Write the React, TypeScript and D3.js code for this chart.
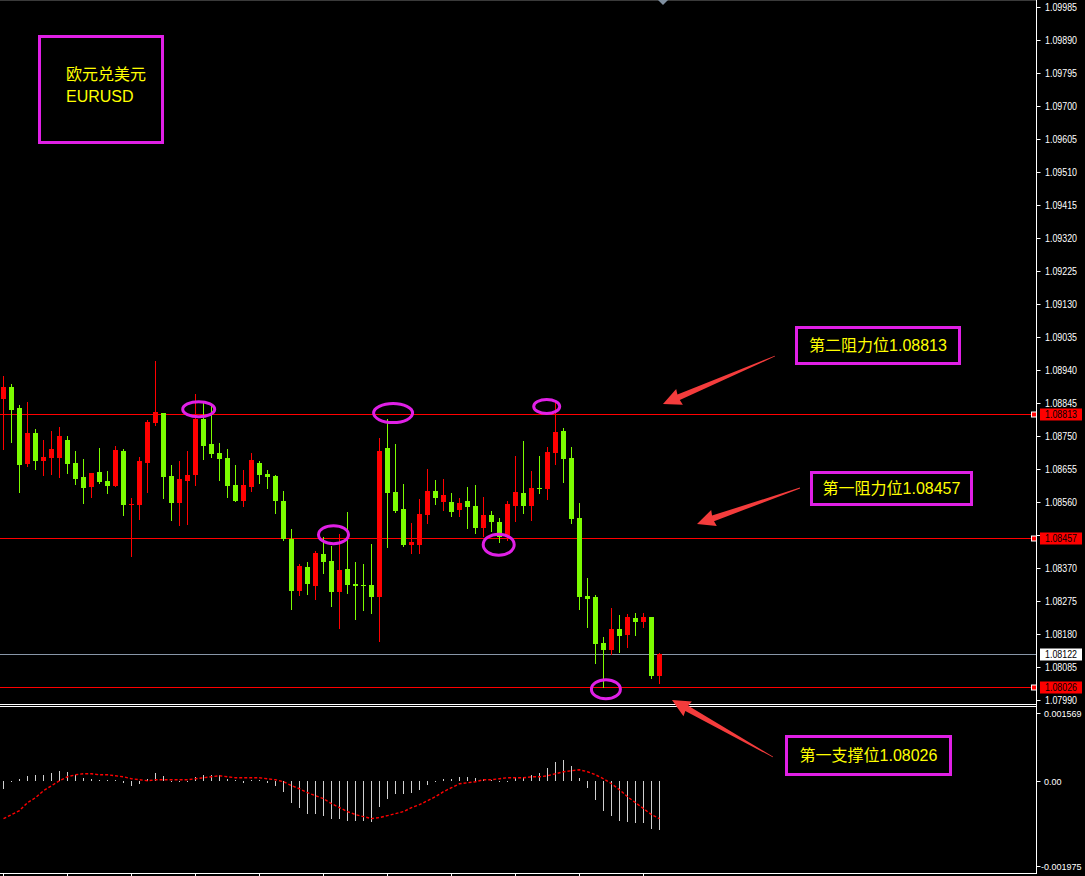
import React from 'react';
import * as d3 from 'd3';

const W = 1085;
const H = 876;

// ---- EURUSD candles ----
const opens = [
  1.08856, 1.08891, 1.08830, 1.08669, 1.08758, 1.08678, 1.08686, 1.08686, 1.08738, 1.08672,
  1.08632, 1.08603, 1.08646, 1.08620, 1.08606, 1.08707, 1.08554, 1.08551, 1.08672, 1.08787,
  1.08816, 1.08635, 1.08557, 1.08620, 1.08637, 1.08799, 1.08727, 1.08701, 1.08686, 1.08609,
  1.08563, 1.08603, 1.08672, 1.08640, 1.08635, 1.08563, 1.08453, 1.08303, 1.08373, 1.08318,
  1.08410, 1.08390, 1.08301, 1.08367, 1.08324, 1.08321, 1.08321, 1.08286, 1.08715, 1.08588,
  1.08540, 1.08436, 1.08436, 1.08522, 1.08591, 1.08560, 1.08560, 1.08537, 1.08563, 1.08548,
  1.08485, 1.08522, 1.08502, 1.08462, 1.08548, 1.08586, 1.08548, 1.08600, 1.08597, 1.08701,
  1.08764, 1.08686, 1.08514, 1.08289, 1.08286, 1.08154, 1.08134, 1.08194, 1.08177, 1.08226,
  1.08214, 1.08229, 1.08059,
];
const highs = [
  1.08922, 1.08899, 1.08839, 1.08848, 1.08770, 1.08738, 1.08764, 1.08776, 1.08750, 1.08707,
  1.08683, 1.08643, 1.08715, 1.08649, 1.08721, 1.08712, 1.08571, 1.08689, 1.08796, 1.08966,
  1.08816, 1.08666, 1.08678, 1.08707, 1.08871, 1.08845, 1.08839, 1.08730, 1.08712, 1.08666,
  1.08652, 1.08701, 1.08678, 1.08652, 1.08637, 1.08591, 1.08482, 1.08381, 1.08387, 1.08419,
  1.08459, 1.08433, 1.08468, 1.08531, 1.08387, 1.08381, 1.08439, 1.08744, 1.08799, 1.08727,
  1.08611, 1.08499, 1.08568, 1.08655, 1.08623, 1.08626, 1.08586, 1.08571, 1.08603, 1.08609,
  1.08574, 1.08534, 1.08514, 1.08563, 1.08692, 1.08735, 1.08649, 1.08692, 1.08718, 1.08848,
  1.08773, 1.08718, 1.08557, 1.08341, 1.08292, 1.08171, 1.08255, 1.08234, 1.08237, 1.08240,
  1.08240, 1.08229, 1.08125,
];
const lows = [
  1.08712, 1.08732, 1.08588, 1.08663, 1.08655, 1.08637, 1.08640, 1.08632, 1.08643, 1.08611,
  1.08557, 1.08574, 1.08614, 1.08586, 1.08606, 1.08522, 1.08404, 1.08511, 1.08588, 1.08781,
  1.08571, 1.08508, 1.08493, 1.08496, 1.08609, 1.08683, 1.08689, 1.08623, 1.08574, 1.08563,
  1.08548, 1.08591, 1.08614, 1.08600, 1.08528, 1.08450, 1.08252, 1.08292, 1.08295, 1.08280,
  1.08355, 1.08260, 1.08197, 1.08298, 1.08223, 1.08249, 1.08240, 1.08160, 1.08430, 1.08531,
  1.08433, 1.08413, 1.08413, 1.08499, 1.08554, 1.08537, 1.08519, 1.08519, 1.08485, 1.08470,
  1.08462, 1.08476, 1.08445, 1.08450, 1.08505, 1.08528, 1.08508, 1.08586, 1.08568, 1.08669,
  1.08617, 1.08499, 1.08252, 1.08200, 1.08096, 1.08027, 1.08122, 1.08128, 1.08142, 1.08177,
  1.08200, 1.08053, 1.08039,
];
const closes = [
  1.08891, 1.08825, 1.08666, 1.08758, 1.08678, 1.08689, 1.08712, 1.08750, 1.08669, 1.08626,
  1.08600, 1.08643, 1.08617, 1.08606, 1.08709, 1.08551, 1.08554, 1.08678, 1.08790, 1.08819,
  1.08632, 1.08557, 1.08626, 1.08637, 1.08799, 1.08721, 1.08698, 1.08683, 1.08606, 1.08563,
  1.08609, 1.08681, 1.08637, 1.08632, 1.08563, 1.08453, 1.08303, 1.08375, 1.08324, 1.08413,
  1.08387, 1.08301, 1.08364, 1.08321, 1.08318, 1.08318, 1.08286, 1.08707, 1.08586, 1.08534,
  1.08436, 1.08445, 1.08525, 1.08591, 1.08571, 1.08580, 1.08531, 1.08557, 1.08545, 1.08485,
  1.08522, 1.08502, 1.08459, 1.08554, 1.08588, 1.08548, 1.08600, 1.08597, 1.08704, 1.08761,
  1.08683, 1.08511, 1.08286, 1.08280, 1.08151, 1.08134, 1.08194, 1.08174, 1.08229, 1.08214,
  1.08229, 1.08059, 1.08122,
];

// ---- MACD ----
const macdHist = [
  -0.000185, -0.000023, 0.000046, 0.000115, 0.000138, 0.000138, 0.000185, 0.000231, 0.000208, 0.000138,
  0.000069, 0.000046, 0.000012, 0.000012, 0.000023, -0.000046, -0.000115, -0.000069, 0.000046, 0.000185,
  0.000115, -0.000012, 0.000005, 0.000005, 0.000092, 0.000138, 0.000138, 0.000138, 0.000046, 0.000012,
  -0.000046, 0.000012, 0.000012, -0.000046, -0.000115, -0.000254, -0.000508, -0.000623, -0.000762, -0.000762,
  -0.000808, -0.000877, -0.000877, -0.000923, -0.000923, -0.000923, -0.000946, -0.000600, -0.000415, -0.000300,
  -0.000300, -0.000277, -0.000208, -0.000092, -0.000005, 0.000046, 0.000046, 0.000092, 0.000092, 0.000069,
  0.000046, 0.000012, 0.000005, -0.000023, 0.000092, 0.000092, 0.000138, 0.000185, 0.000300, 0.000438,
  0.000485, 0.000346, 0.000069, -0.000162, -0.000438, -0.000692, -0.000808, -0.000923, -0.000946, -0.000969,
  -0.000969, -0.001108, -0.001131,
];
const macdSignal = [
  -0.000877, -0.000785, -0.000692, -0.000508, -0.000392, -0.000231, -0.000115, 0.000000, 0.000092, 0.000138,
  0.000162, 0.000162, 0.000138, 0.000138, 0.000115, 0.000092, 0.000046, 0.000023, 0.000000, 0.000023,
  0.000023, 0.000023, 0.000023, 0.000023, 0.000046, 0.000069, 0.000092, 0.000115, 0.000092, 0.000069,
  0.000069, 0.000069, 0.000069, 0.000046, 0.000023, -0.000023, -0.000115, -0.000185, -0.000277, -0.000346,
  -0.000415, -0.000531, -0.000623, -0.000715, -0.000785, -0.000831, -0.000877, -0.000854, -0.000808, -0.000762,
  -0.000715, -0.000623, -0.000554, -0.000462, -0.000369, -0.000254, -0.000162, -0.000069, -0.000046, -0.000023,
  0.000023, 0.000023, 0.000046, 0.000069, 0.000069, 0.000069, 0.000092, 0.000092, 0.000115, 0.000162,
  0.000208, 0.000231, 0.000254, 0.000208, 0.000138, 0.000046, -0.000069, -0.000208, -0.000369, -0.000508,
  -0.000646, -0.000785, -0.000877,
];

// ---- axis ticks / levels ----
const priceTicks = [
  1.09985, 1.0989, 1.09795, 1.097, 1.09605, 1.0951, 1.09415, 1.0932, 1.09225, 1.0913, 1.09035,
  1.0894, 1.08845, 1.0875, 1.08655, 1.0856, 1.08465, 1.0837, 1.08275, 1.0818, 1.08085, 1.0799,
];
const macdTicks = [0.001569, 0, -0.001975];
const macdTickLabels = ['0.001569', '0.00', '-0.001975'];
const levelPrices = [1.08813, 1.08457, 1.08026];
const currentPrice = 1.08122;

// annotation marks (candle index / price anchored)
const circleIdx = [24.4, 48.7, 41.25, 61.9, 67.9, 75.3];
const circlePrice = [1.08827, 1.08816, 1.08466, 1.08437, 1.08835, 1.08021];
const circleRx = [16, 19.5, 15, 15.5, 13, 14.5];
const circleRy = [7.5, 9.5, 9, 10.5, 7, 9.5];

const noteTexts = ['第二阻力位1.08813', '第一阻力位1.08457', '第一支撑位1.08026'];

const UP = '#ff0000';
const DOWN = '#7cfc00';
const MAG = '#e020e6';
const YEL = '#ffff00';
const ARROW = '#f43c3c';
const AXIS_X = 1036.5;

function arrowPoints(x1: number, y1: number, x2: number, y2: number) {
  const dx = x2 - x1;
  const dy = y2 - y1;
  const L = Math.hypot(dx, dy);
  const ux = dx / L, uy = dy / L;
  const nx = -uy, ny = ux;
  const headLen = 17, headW = 8.5, shaftW = 3, tailW = 0.4;
  const bx = x2 - ux * headLen, by = y2 - uy * headLen;
  const pts = [
    [x1 + nx * tailW, y1 + ny * tailW],
    [bx + nx * shaftW, by + ny * shaftW],
    [bx - ux * 1 + nx * headW, by - uy * 1 + ny * headW],
    [x2, y2],
    [bx - ux * 1 - nx * headW, by - uy * 1 - ny * headW],
    [bx - nx * shaftW, by - ny * shaftW],
    [x1 - nx * tailW, y1 - ny * tailW],
  ];
  return pts.map((p) => p.join(',')).join(' ');
}

export default function App() {
  const n = opens.length;
  const x = d3.scaleLinear().domain([0, n - 1]).range([3.5, 3.5 + 8 * (n - 1)]);
  const y = d3.scaleLinear().domain([1.0799, 1.09985]).range([700, 7]);
  const ym = d3.scaleLinear().domain([-0.001975, 0.001569]).range([866, 713]);
  const fmt = d3.format('.5f');

  const signalLine = d3
    .line<number>()
    .x((_, i) => x(i))
    .y((d) => ym(d))(macdSignal) as string;

  const labelYs = [...levelPrices, currentPrice].map((p) => y(p));

  const axisFont = "'Liberation Sans', Arial, sans-serif";
  const noteFont = "'Liberation Sans', 'Noto Sans CJK SC', sans-serif";
  const AX_FS = 10.5;

  const boxes = [
    { x: 796.5, y: 327.5, w: 163, h: 36 },
    { x: 811.5, y: 472.5, w: 160, h: 32 },
    { x: 786.5, y: 736.5, w: 164, h: 38 },
  ];
  const arrows = [
    { x1: 775, y1: 356, x2: 663, y2: 404 },
    { x1: 800, y1: 488, x2: 697, y2: 524 },
    { x1: 773, y1: 757, x2: 672, y2: 700 },
  ];
  const macdLabelX = [1044, 1044, 1041];

  return (
    <svg
      width={W}
      height={H}
      style={{ position: 'absolute', left: 0, top: 0, background: '#000', display: 'block' }}
    >
      <rect x={0} y={0} width={W} height={H} fill="#000" />
      {/* top border + shift marker */}
      <line x1={0} x2={AXIS_X} y1={0.5} y2={0.5} stroke="#3a3a3a" />
      <path d="M658,0 L668,0 L663,5 Z" fill="#8090a0" />

      {/* level lines */}
      {levelPrices.map((p, i) => (
        <line key={'lv' + i} x1={0} x2={AXIS_X} y1={Math.round(y(p)) + 0.5} y2={Math.round(y(p)) + 0.5} stroke="#ff0000" strokeWidth={1} />
      ))}
      <line x1={0} x2={AXIS_X} y1={Math.round(y(currentPrice)) + 0.5} y2={Math.round(y(currentPrice)) + 0.5} stroke="#8896a8" strokeWidth={1} />

      {/* candles */}
      <g shapeRendering="crispEdges">
        {opens.map((o, i) => {
          const c = closes[i];
          const col = c >= o ? UP : DOWN;
          const cx = x(i);
          const top = Math.round(y(Math.max(o, c)));
          const bot = Math.round(y(Math.min(o, c)));
          return (
            <g key={'c' + i}>
              <line x1={cx} x2={cx} y1={Math.round(y(highs[i]))} y2={Math.round(y(lows[i])) + 1} stroke={col} strokeWidth={1} />
              <rect x={cx - 2.5} y={top} width={5} height={Math.max(1, bot - top)} fill={col} />
            </g>
          );
        })}
      </g>

      {/* circles */}
      {circleIdx.map((ci, i) => (
        <ellipse key={'e' + i} cx={x(ci)} cy={y(circlePrice[i])} rx={circleRx[i]} ry={circleRy[i]} fill="none" stroke={MAG} strokeWidth={3} />
      ))}

      {/* separators */}
      <line x1={0} x2={AXIS_X} y1={704.5} y2={704.5} stroke="#fff" />
      <line x1={0} x2={AXIS_X} y1={706.5} y2={706.5} stroke="#fff" />

      {/* MACD */}
      <g shapeRendering="crispEdges">
        {macdHist.map((v, i) => {
          const y0 = ym(0);
          const y1 = ym(v);
          return <rect key={'h' + i} x={x(i) - 0.5} y={Math.min(y0, y1)} width={1} height={Math.max(1, Math.abs(y1 - y0))} fill="#d0d0d0" />;
        })}
      </g>
      <path d={signalLine} fill="none" stroke="#ff0000" strokeWidth={1.4} strokeDasharray="3,2" />

      {/* right axis */}
      <line x1={AXIS_X} x2={AXIS_X} y1={0} y2={873} stroke="#fff" />
      <line x1={0} x2={AXIS_X + 0.5} y1={873.5} y2={873.5} stroke="#fff" />
      {d3.range(0, n, 8).map((i) => (
        <line key={'bt' + i} x1={x(i)} x2={x(i)} y1={873} y2={876} stroke="#fff" />
      ))}
      {priceTicks.map((p, i) => {
        const yy = Math.round(y(p)) + 0.5;
        const hide = labelYs.some((ly) => Math.abs(ly - yy) < 9);
        return (
          <g key={'pt' + i}>
            <line x1={AXIS_X} x2={AXIS_X + 4} y1={yy} y2={yy} stroke="#fff" />
            {!hide && (
              <text x={1045} y={yy} dy="0.35em" fill="#fff" fontSize={AX_FS} fontFamily={axisFont} textLength={32} lengthAdjust="spacingAndGlyphs">
                {fmt(p)}
              </text>
            )}
          </g>
        );
      })}
      {macdTicks.map((v, i) => {
        const yy = Math.round(ym(v)) + 0.5;
        return (
          <g key={'mt' + i}>
            <line x1={AXIS_X} x2={AXIS_X + 4} y1={yy} y2={yy} stroke="#fff" />
            <text x={macdLabelX[i]} y={yy} dy="0.35em" fill="#fff" fontSize={9} fontFamily={axisFont}>
              {macdTickLabels[i]}
            </text>
          </g>
        );
      })}

      {/* level labels */}
      {levelPrices.map((p, i) => {
        const yy = Math.round(y(p)) + 0.5;
        return (
          <g key={'ll' + i}>
            <rect x={1031.5} y={yy - 2.5} width={5} height={5} fill="#ff0000" stroke="#fff" strokeWidth={1} />
            <rect x={1040} y={yy - 6} width={42} height={12} fill="#ff0000" />
            <text x={1045} y={yy} dy="0.35em" fill="#000" fontSize={AX_FS} fontFamily={axisFont} textLength={32} lengthAdjust="spacingAndGlyphs">
              {fmt(p)}
            </text>
          </g>
        );
      })}
      {(() => {
        const yy = Math.round(y(currentPrice)) + 0.5;
        return (
          <g>
            <rect x={1040} y={yy - 6} width={42} height={12} fill="#fff" />
            <text x={1045} y={yy} dy="0.35em" fill="#000" fontSize={AX_FS} fontFamily={axisFont} textLength={32} lengthAdjust="spacingAndGlyphs">
              {fmt(currentPrice)}
            </text>
          </g>
        );
      })()}

      {/* title box */}
      <rect x={39.5} y={36.5} width={123} height={106} fill="#000" stroke={MAG} strokeWidth={3} />
      <text x={66} y={74} dy="0.35em" fill={YEL} fontSize={16} fontFamily={noteFont}>欧元兑美元</text>
      <text x={66} y={96} dy="0.35em" fill={YEL} fontSize={16} fontFamily={noteFont}>EURUSD</text>

      {/* arrows */}
      {arrows.map((a, i) => (
        <polygon key={'a' + i} points={arrowPoints(a.x1, a.y1, a.x2, a.y2)} fill={ARROW} />
      ))}

      {/* note boxes */}
      {boxes.map((b, i) => (
        <g key={'b' + i}>
          <rect x={b.x} y={b.y} width={b.w} height={b.h} fill="#000" stroke={MAG} strokeWidth={3} />
          <text x={b.x + b.w / 2} y={b.y + b.h / 2} dy="0.35em" textAnchor="middle" fill={YEL} fontSize={16} fontFamily={noteFont}>
            {noteTexts[i]}
          </text>
        </g>
      ))}
    </svg>
  );
}
